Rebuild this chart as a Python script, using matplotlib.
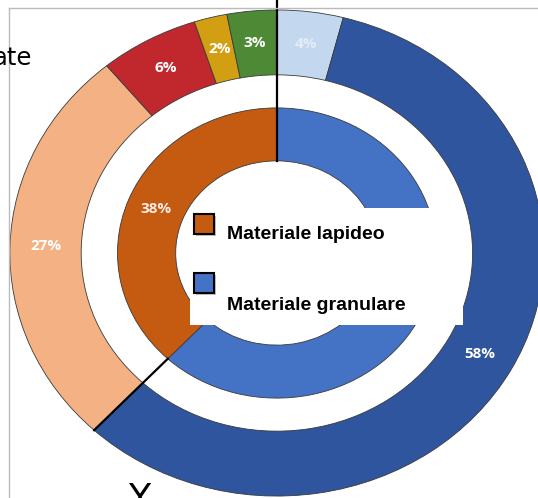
import numpy as np
import matplotlib.pyplot as plt
from matplotlib.patches import Rectangle
from matplotlib.lines import Line2D

# Outer ring (clockwise from top)
outer_vals = [4, 58, 27, 6, 2, 3]
outer_colors = ['#C3D8EE', '#2E559E', '#F4B183', '#C0282E', '#D29E12', '#4E8A36']
outer_text_colors = ['#E4ECF6', 'white', 'white', 'white', 'white', 'white']

# Inner ring (clockwise from top)
inner_names = ['Materiale granulare', 'Materiale lapideo']
inner_vals = [62, 38]
inner_colors = ['#4472C4', '#C55A11']

W, H = 538, 498


def px(x, y):
    # pixel position (from top-left) -> figure fraction
    return x / W, 1 - y / H


fig = plt.figure(figsize=(W / 100, H / 100), dpi=100)
ax = fig.add_axes([0, 0, 1, 1])

r_out, r_out_in = 1.0, 0.733
r_in, r_hole = 0.597, 0.379
edge = dict(edgecolor='#3a3a3a', linewidth=0.6)
pct_font = dict(color='white', fontsize=11, fontweight='bold', family='Open Sans')

w1, t1, a1 = ax.pie(outer_vals, radius=r_out, colors=outer_colors, startangle=90,
                    counterclock=False, autopct='%1.0f%%',
                    pctdistance=(r_out + r_out_in) / 2 / r_out,
                    wedgeprops=dict(width=r_out - r_out_in, **edge), textprops=pct_font)
for txt, c in zip(a1, outer_text_colors):
    txt.set_color(c)

w2, t2, a2 = ax.pie(inner_vals, radius=r_in, colors=inner_colors, startangle=90,
                    counterclock=False, autopct='%1.0f%%',
                    pctdistance=(r_in + r_hole) / 2 / r_in,
                    wedgeprops=dict(width=r_in - r_hole, **edge), textprops=pct_font)
a2[1].set_color('#F8EDE4')
a2[0].set_visible(False)  # hidden behind the legend box in the original

# black separators between the two groups
ax.plot([0, 0], [r_hole, 1.2], color='black', lw=1.6, clip_on=False, zorder=5)
ang = np.deg2rad(90 + 360 * inner_vals[1] / sum(inner_vals))
ax.plot([r_in * np.cos(ang), r_out * np.cos(ang)], [r_in * np.sin(ang), r_out * np.sin(ang)],
        color='black', lw=1.6, zorder=5)

ax.set_aspect('auto')
ax.set_xlim(-1.037, 0.978)
ax.set_ylim(-1.008, 1.041)
ax.axis('off')

# legend box covering the centre
x0, y0 = px(190, 325)
x1, y1 = px(463, 208)
fig.add_artist(Rectangle((x0, y0), x1 - x0, y1 - y0, transform=fig.transFigure,
                         facecolor='white', edgecolor='none', zorder=2))
legend_rows = [(214, 239), (273, 310)]
for (name, col), (sq_top, base) in zip(reversed(list(zip(inner_names, inner_colors))), legend_rows):
    sx, sy = px(194, sq_top + 20)
    fig.add_artist(Rectangle((sx + 2 / W, sy - 2 / H), 20 / W, 20 / H, transform=fig.transFigure,
                             facecolor='#888888', edgecolor='none', alpha=0.5, zorder=3))
    fig.add_artist(Rectangle((sx, sy), 20 / W, 20 / H, transform=fig.transFigure,
                             facecolor=col, edgecolor='black', linewidth=1.5, zorder=4))
    tx, ty = px(227, base)
    fig.text(tx, ty, name, fontsize=14, fontweight='bold', family='Liberation Sans',
             ha='left', va='baseline', zorder=5)

# frame lines and cut-off texts of the screenshot
fig.add_artist(Line2D([9 / W, 9 / W], [0, 1 - 8 / H], color='#BBBBBB', lw=1, transform=fig.transFigure))
fig.add_artist(Line2D([9 / W, 1], [1 - 8 / H, 1 - 8 / H], color='#BBBBBB', lw=1, transform=fig.transFigure))
fig.text(*px(32, 65), 'ate', fontsize=17.5, ha='right', va='baseline')
fig.text(*px(139, 482), 'Y', fontsize=26, ha='center', va='top')

fig.savefig('out.png', dpi=100)
